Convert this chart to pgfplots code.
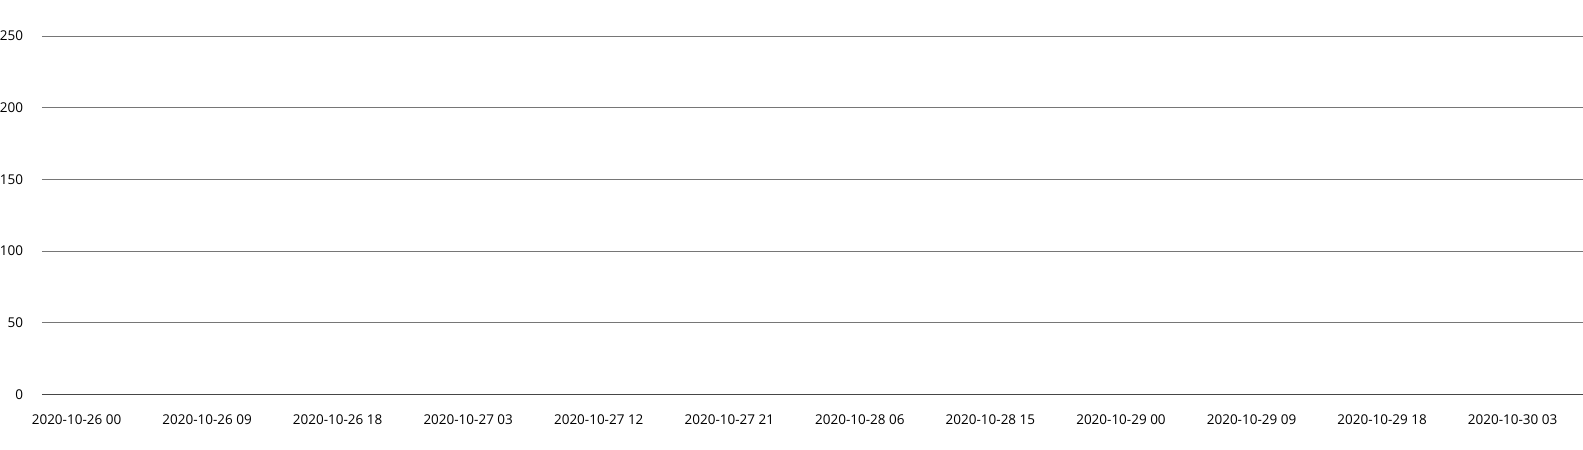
\documentclass[border=0pt]{standalone}
\usepackage{fontspec}
\setmainfont{Open Sans}
\usepackage{pgfplots}
\pgfplotsset{compat=1.18}
\definecolor{gridc}{RGB}{118,118,118}
\definecolor{basec}{RGB}{70,70,70}
\begin{document}
\begin{tikzpicture}[font=\fontsize{13.5bp}{16bp}\selectfont]
\begin{axis}[
  scale only axis,
  width=1541bp, height=358.3bp,
  xmin=-2.38, xmax=103.85,
  ymin=0, ymax=250,
  axis line style={draw=none},
  major tick length=0pt,
  ytick={50,100,150,200,250},
  extra y ticks={0},
  extra y tick style={grid style={basec, line width=1bp}},
  ymajorgrids,
  grid style={gridc, line width=0.9bp},
  xtick={0,9,18,27,36,45,54,63,72,81,90,99},
  xticklabels={2020-10-26 00,2020-10-26 09,2020-10-26 18,2020-10-27 03,2020-10-27 12,2020-10-27 21,2020-10-28 06,2020-10-28 15,2020-10-29 00,2020-10-29 09,2020-10-29 18,2020-10-30 03},
  /pgf/number format/assume math mode=true,
  yticklabel style={anchor=east, xshift=-15.5bp, font=\fontsize{13.5bp}{16bp}\selectfont},
  xticklabel style={anchor=north, yshift=-17.2bp, font=\fontsize{13.5bp}{16bp}\selectfont},
  clip=false,
]
\end{axis}
\pgfresetboundingbox
\useasboundingbox (-42bp,-55.7bp) rectangle (1541bp,394.3bp);
\end{tikzpicture}
\end{document}
